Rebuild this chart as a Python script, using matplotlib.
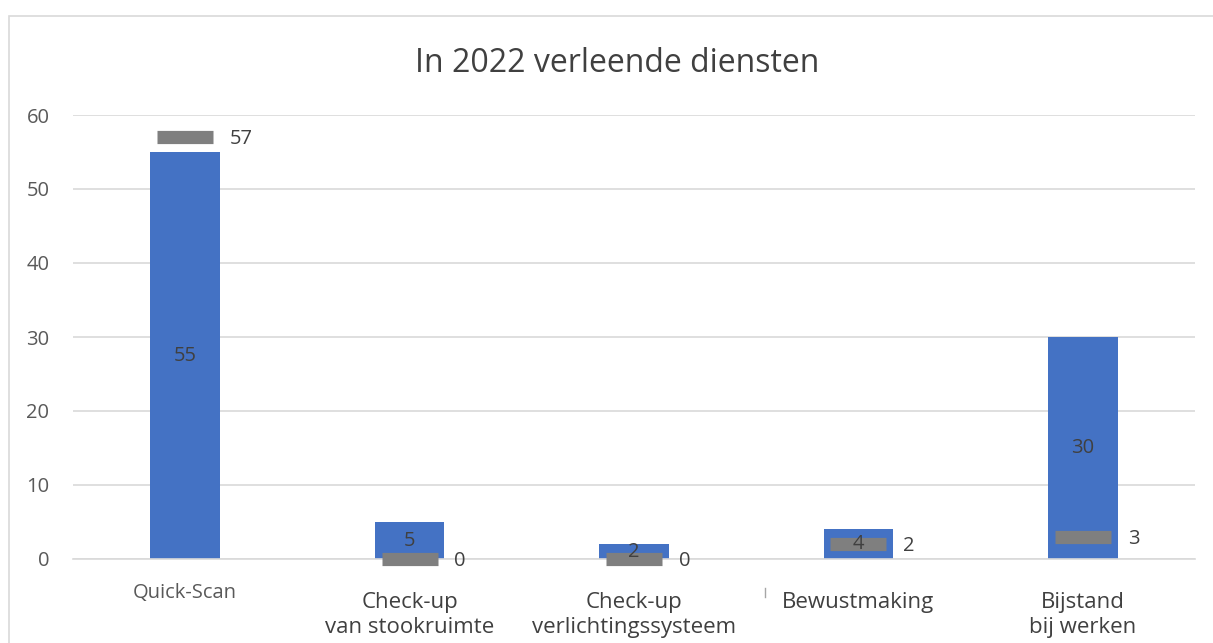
import matplotlib
matplotlib.use("Agg")
import matplotlib.pyplot as plt
from matplotlib.patches import Rectangle
from matplotlib.lines import Line2D
import numpy as np

plt.rcParams['font.family'] = ['Open Sans', 'DejaVu Sans']

categories = ["Quick-Scan", "Check-up\nvan stookruimte", "Check-up\nverlichtingssysteem",
              "Bewustmaking", "Bijstand\nbij werken"]
bar_values = [55, 5, 2, 4, 30]
marker_values = [57, 0, 0, 2, 3]
yticks = [0, 10, 20, 30, 40, 50, 60]
title = "In 2022 verleende diensten"

W, H = 1213, 643
fig = plt.figure(figsize=(W / 100, H / 100), dpi=100)
fig.patch.set_facecolor("white")

# outer chart border
fig.add_artist(Rectangle((9 / W, -0.05), 1.2, 1 - 16 / H + 0.05, transform=fig.transFigure,
                         fill=False, edgecolor="#d9d9d9", linewidth=1.2))
# small stray mark below the axis
fig.add_artist(Line2D([765 / W, 765 / W], [1 - 588 / H, 1 - 597 / H], transform=fig.transFigure,
                      color="#a6a6a6", linewidth=1))

ax = fig.add_axes([73 / W, 1 - 559 / H, (1195 - 73) / W, (559 - 115) / H])
x = np.arange(len(categories))
ax.bar(x, bar_values, width=0.31, color="#4472c4", zorder=2)
for xi, v in zip(x, bar_values):
    ax.text(xi, v / 2, str(v), ha="center", va="center", fontsize=14.5, color="#404040", zorder=4)

ax.plot(x, marker_values, linestyle="none", marker="_", markersize=40, markeredgewidth=9.5,
        color="#7f7f7f", zorder=3, clip_on=False)
for xi, v in zip(x, marker_values):
    ax.text(xi + 0.2, v - 0.3, str(v), ha="left", va="center", fontsize=14.5, color="#404040",
            zorder=4, clip_on=False)

ax.set_xlim(-0.5, len(categories) - 0.5)
ax.set_ylim(0, 60)
ax.set_yticks(yticks)
ax.set_yticklabels([str(t) for t in yticks], fontsize=14.5, color="#595959")
ax.tick_params(axis="y", length=0, pad=17)
ax.set_xticks(x)
ax.set_xticklabels([])
ax.tick_params(axis="x", length=0)

for i, (xi, lab) in enumerate(zip(x, categories)):
    if i == 0:
        ax.annotate(lab, xy=(xi, 0), xycoords=("data", "axes fraction"), xytext=(0, -17),
                    textcoords="offset points", ha="center", va="top", fontsize=14.5,
                    color="#595959")
    else:
        ax.annotate(lab, xy=(xi, 0), xycoords=("data", "axes fraction"), xytext=(0, -24),
                    textcoords="offset points", ha="center", va="top", fontsize=16,
                    color="#404040", linespacing=1.24, multialignment="center")

ax.grid(axis="y", color="#d9d9d9", linewidth=1.2, zorder=0)
ax.set_axisbelow(True)
for s in ["top", "right", "left"]:
    ax.spines[s].set_visible(False)
ax.spines["bottom"].set_color("#d9d9d9")
ax.spines["bottom"].set_linewidth(1.2)

fig.text(617 / W, 1 - 63 / H, title, ha="center", va="center", fontsize=23, color="#404040")

fig.savefig("out.png", dpi=100)
